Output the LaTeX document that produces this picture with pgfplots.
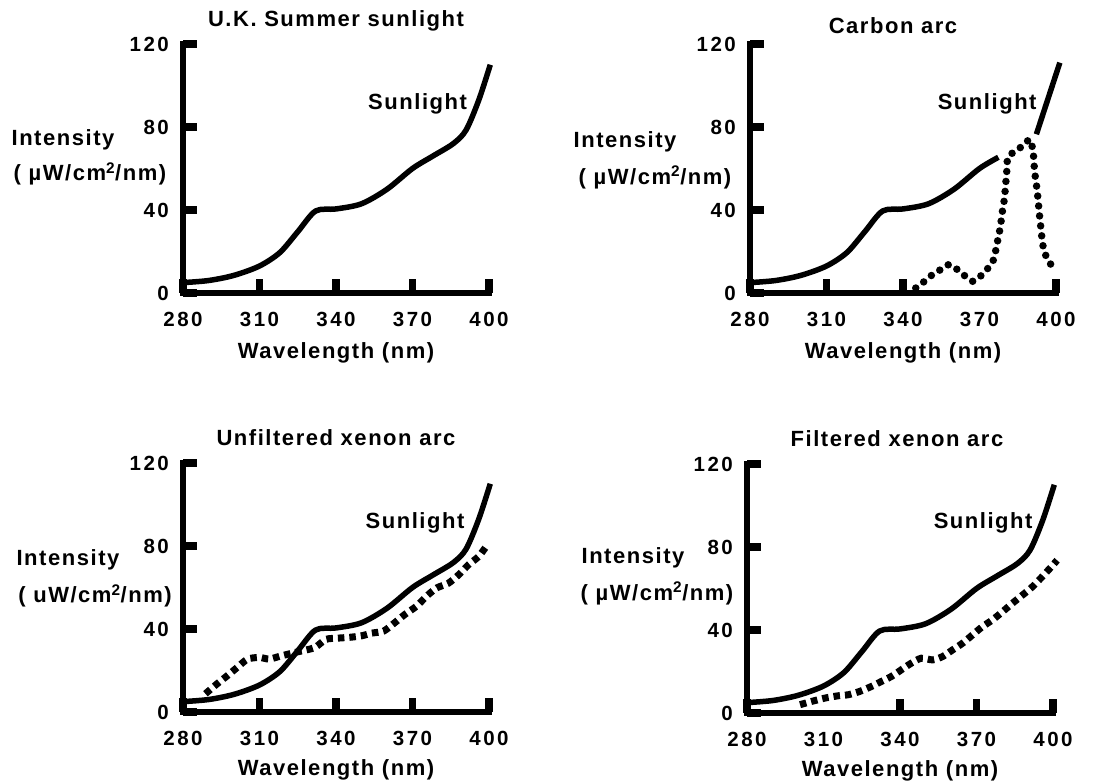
\documentclass[border=0pt]{standalone}
\usepackage{fontspec}
\setmainfont{Liberation Sans}
\newfontfamily\tickfont[LetterSpace=12]{Liberation Sans}
\newfontfamily\labfont[LetterSpace=7]{Liberation Sans}
\usepackage{pgfplots}
\pgfplotsset{compat=1.18}

\newcommand\tfont{\labfont\bfseries\fontsize{22}{25}\selectfont}

\pgfplotsset{
  panel/.style={
    scale only axis, width=306pt, height=249pt,
    anchor=south west,
    xmin=280, xmax=400, ymin=0, ymax=120,
    axis x line*=bottom, axis y line*=left,
    axis line style={line width=6.5pt, line cap=rect},
    xtick={280,310,340,370,400}, ytick={0,40,80,120},
    tick align=inside, major tick length=14pt,
    tick style={black, line width=7.5pt},
    /pgf/number format/assume math mode=true,
    ticklabel style={font=\tickfont\bfseries\fontsize{20.5}{22}\selectfont},
    xticklabel style={anchor=center, yshift=-26pt},
    yticklabel style={anchor=east, inner sep=0pt, xshift=-14pt},
    extra tick style={major tick length=0pt},
    clip=false,
  },
  sun/.style={black, line width=5.5pt, smooth, tension=0.5},
  rounddots/.style={black, line width=7.5pt, line cap=round, dash pattern=on 0pt off 10pt, smooth, tension=0.4},
  squares/.style={black, line width=7pt, line cap=butt, dash pattern=on 6.5pt off 5pt, smooth, tension=0.4},
}

\pgfplotstableread{
x y
280 5
290 6
300 8.5
310 13
318 19.5
325 29.5
332 39.5
340 40.5
350 43
360 50
370 60
378 66
386 72
391 78.5
396 93
400.5 110
}\sunlight

\pgfplotstableread{
x y
280 5
290 6
300 8.5
310 13
318 19.5
325 29.5
332 39.5
340 40.5
350 43
360 50
370 60
377.4 65.4
}\sunlow

\pgfplotstableread{
x y
392.3 76.5
401.5 111
}\sunhigh

\pgfplotstableread{
x y
345 2.4
348.4 5.6
351.6 8.9
354.8 11.3
358 13.7
361.3 11.3
364.5 8
367.4 5.6
370.3 8
372.9 11.3
375.5 16
376.8 23.3
378.1 31.4
379 39.5
379.8 45.9
380.7 58.8
381.1 65.2
383.9 68.4
387 70.9
389.7 74
391 68.4
391.6 58.8
392.3 52.3
392.9 45.9
393.5 37.8
394.2 29.8
394.8 23.3
396.1 17.7
398 13.7
}\carbon

\pgfplotstableread{
x y
288.8 8.8
293.4 13.6
297.4 17.5
301.3 21.5
305.3 25.5
310 26.3
313.8 25.5
318.4 27
325 29
331.6 31
336 35
340.8 35.6
345.4 36
350 36.7
354 38
358.7 39
363 43
367 47
371.6 51
375.5 55.8
379.5 59.8
384 62
388 66
392 71
396 75
399.3 80.5
}\unfiltered

\pgfplotstableread{
x y
300.8 4
305.4 5.6
310.6 7.2
315.8 8.3
319.7 8.8
324.2 10.4
328.8 12.8
332.7 15.2
336.6 17.6
340.5 20.8
344.4 24
348.3 26.4
352.8 25.6
356.7 27.2
360.6 30.4
364.5 33.6
368.4 37.6
372.3 41.6
376.2 44.8
380.2 48.8
384 52.8
388 56.8
391.9 60.8
395.7 65.6
399 70
401.6 73.6
}\filtered

\begin{document}
\begin{tikzpicture}
\useasboundingbox (0pt,0pt) rectangle (1107pt,783pt);

% top left
\begin{axis}[panel, at={(183pt,490pt)}]
\addplot[sun] table {\sunlight};
\node[font=\tfont] at (rel axis cs:0.5,1) [yshift=23pt] {U.K. Summer sunlight};
\node[font=\tfont] at (axis cs:372,91) {Sunlight};
\node[font=\tfont] at (axis cs:280,74) [xshift=-120pt] {Intensity};
\node[font=\tfont] at (axis cs:280,57.5) [xshift=-93pt] {( µW/cm\textsuperscript{2}/nm)};
\node[font=\tfont] at (rel axis cs:0.5,0) [yshift=-60pt] {Wavelength (nm)};
\end{axis}

% top right
\begin{axis}[panel, at={(750pt,490pt)}, xtick={280,310,340,400}, extra x ticks={370}]
\addplot[sun] table {\sunlow};
\addplot[black, line width=5.5pt] table {\sunhigh};
\addplot[rounddots] table {\carbon};
\node[font=\tfont] at (rel axis cs:0.5,1) [yshift=18pt, xshift=-10pt] {Carbon arc};
\node[font=\tfont] at (axis cs:373,91) {Sunlight};
\node[font=\tfont] at (axis cs:280,73) [xshift=-125pt] {Intensity};
\node[font=\tfont] at (axis cs:280,55.6) [xshift=-95pt] {( µW/cm\textsuperscript{2}/nm)};
\node[font=\tfont] at (rel axis cs:0.5,0) [yshift=-60pt] {Wavelength (nm)};
\end{axis}

% bottom left
\begin{axis}[panel, at={(183pt,71pt)}]
\addplot[sun] table {\sunlight};
\addplot[squares] table {\unfiltered};
\node[font=\tfont] at (rel axis cs:0.5,1) [yshift=25pt] {Unfiltered xenon arc};
\node[font=\tfont] at (axis cs:371,91) {Sunlight};
\node[font=\tfont] at (axis cs:280,73.5) [xshift=-115pt] {Intensity};
\node[font=\tfont] at (axis cs:280,56) [xshift=-88pt] {( uW/cm\textsuperscript{2}/nm)};
\node[font=\tfont] at (rel axis cs:0.5,0) [yshift=-58pt] {Wavelength (nm)};
\end{axis}

% bottom right
\begin{axis}[panel, at={(747pt,70pt)}, xtick={280,340,370,400}, extra x ticks={310}]
\addplot[sun] table {\sunlight};
\addplot[squares] table {\filtered};
\node[font=\tfont] at (rel axis cs:0.5,1) [yshift=25pt, xshift=-3pt] {Filtered xenon arc};
\node[font=\tfont] at (axis cs:372.6,91.5) {Sunlight};
\node[font=\tfont] at (axis cs:280,75) [xshift=-114pt] {Intensity};
\node[font=\tfont] at (axis cs:280,57.7) [xshift=-90pt] {( µW/cm\textsuperscript{2}/nm)};
\node[font=\tfont] at (rel axis cs:0.5,0) [yshift=-58pt] {Wavelength (nm)};
\end{axis}
\end{tikzpicture}
\end{document}
